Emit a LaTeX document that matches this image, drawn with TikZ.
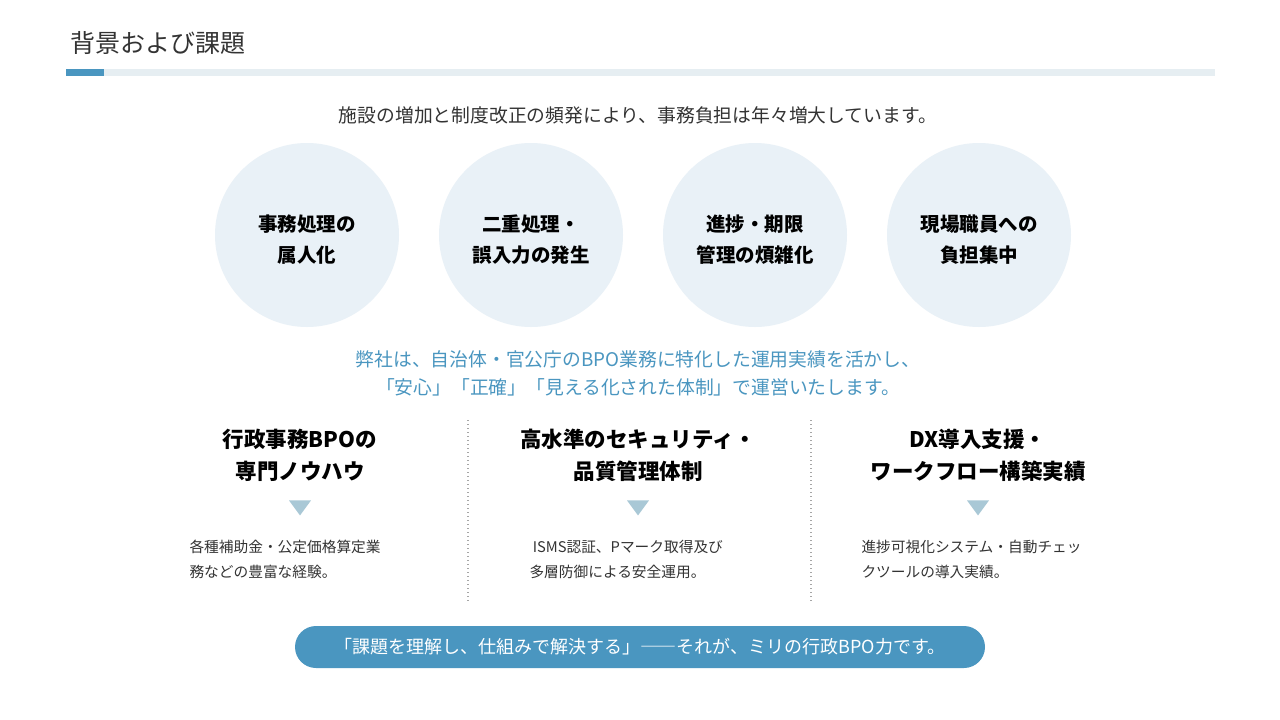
\documentclass[tikz,border=0pt]{standalone}
\usepackage{fontspec}
\usetikzlibrary{shapes.geometric}
\setmainfont{Noto Sans CJK JP}
\definecolor{accent}{HTML}{4A96C0}
\definecolor{barbg}{HTML}{E6EEF2}
\definecolor{circ}{HTML}{E9F1F7}
\definecolor{tri}{HTML}{A9C8D6}
\definecolor{txt}{HTML}{333333}
\begin{document}
\begin{tikzpicture}[x=1pt,y=-1pt,
  circnode/.style={circle,fill=circ,minimum size=184pt,inner sep=0pt},
  circtext/.style={align=center,font=\fontsize{19.5}{31}\selectfont\bfseries,text=black},
  head/.style={align=center,font=\fontsize{21.5}{32}\selectfont\bfseries,text=black},
  body/.style={align=left,font=\fontsize{14.7}{25}\selectfont,text=txt,anchor=west},
  trinode/.style={isosceles triangle,shape border rotate=-90,fill=tri,minimum width=22pt,minimum height=15pt,inner sep=0pt,isosceles triangle stretches},
  divider/.style={draw=gray!70,line width=1.3pt,dash pattern=on 1.3pt off 2.7pt}]
\useasboundingbox (0,0) rectangle (1280,720);
\fill[white] (0,0) rectangle (1280,720);
\node[anchor=west,font=\fontsize{25}{28}\selectfont,text=txt] (title) at (67,43) {背景および課題};
\fill[barbg] (66,69) rectangle (1215,76);
\fill[accent] (66,69) rectangle (104,76);
\node[font=\fontsize{18.8}{22}\selectfont,text=txt] (sub) at (638,115) {施設の増加と制度改正の頻発により、事務負担は年々増大しています。};
\node[circnode] (c1) at (307,235) {};
\node[circnode] (c2) at (531,235) {};
\node[circnode] (c3) at (755,235) {};
\node[circnode] (c4) at (979,235) {};
\node[circtext] (ct1) at (307,240) {事務処理の\\属人化};
\node[circtext] (ct2) at (531,240) {二重処理・\\誤入力の発生};
\node[circtext] (ct3) at (755,240) {進捗・期限\\管理の煩雑化};
\node[circtext] (ct4) at (979,240) {現場職員への\\負担集中};
\node[align=center,text=accent,font=\fontsize{18.8}{28}\selectfont] (msg) at (638,373) {弊社は、自治体・官公庁のBPO業務に特化した運用実績を活かし、\\「安心」「正確」「見える化された体制」で運営いたします。};
\node[head] (h1) at (300,455) {行政事務BPOの\\専門ノウハウ};
\node[head] (h2) at (638,455) {高水準のセキュリティ・\\品質管理体制};
\node[head] (h3) at (978,455) {DX導入支援・\\ワークフロー構築実績};
\node[trinode] (t1) at (300,506) {};
\node[trinode] (t2) at (638,506) {};
\node[trinode] (t3) at (978,506) {};
\node[body] (b1) at (186,559) {各種補助金・公定価格算定業\\務などの豊富な経験。};
\node[body] (b2) at (526,559) {\ ISMS認証、Pマーク取得及び\\多層防御による安全運用。};
\node[body] (b3) at (858,559) {進捗可視化システム・自動チェッ\\クツールの導入実績。};
\coordinate (d1a) at (468,420); \coordinate (d1b) at (468,602);
\coordinate (d2a) at (811,420); \coordinate (d2b) at (811,602);
\draw[divider] (d1a) -- (d1b);
\draw[divider] (d2a) -- (d2b);
\node[fill=accent,rounded corners=21pt,minimum width=690pt,minimum height=42pt,text=white,font=\fontsize{18}{20}\selectfont] (pill) at (640,647) {「課題を理解し、仕組みで解決する」――それが、ミリの行政BPO力です。};
\end{tikzpicture}
\end{document}
